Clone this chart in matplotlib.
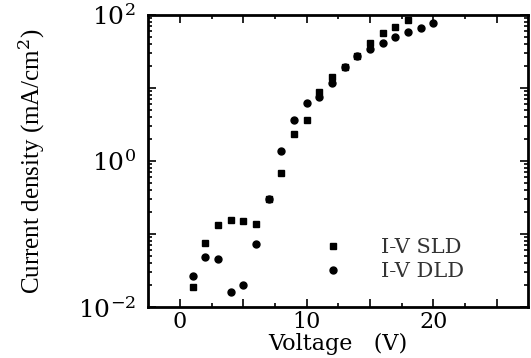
import matplotlib
matplotlib.use("Agg")
import matplotlib.pyplot as plt
from matplotlib.ticker import FixedLocator, FuncFormatter, LogLocator, NullFormatter
import numpy as np

plt.rcParams["font.family"] = ["DejaVu Serif"]
plt.rcParams["mathtext.fontset"] = "dejavuserif"

# I-V data
v_sld = [1, 2, 3, 4, 5, 6, 7, 8, 9, 10, 11, 12, 13, 14, 15, 16, 17, 18]
j_sld = [0.019, 0.076, 0.133, 0.155, 0.152, 0.136, 0.30, 0.69, 2.34, 3.6,
         8.9, 14.0, 19.6, 27.8, 41, 56, 69, 85]

v_dld = [1, 2, 3, 4, 5, 6, 7, 8, 9, 10, 11, 12, 13, 14, 15, 16, 17, 18, 19, 20]
j_dld = [0.027, 0.049, 0.045, 0.016, 0.020, 0.073, 0.30, 1.37, 3.6, 6.2,
         7.6, 11.6, 19.6, 27.8, 33.8, 42, 50, 59, 67, 77]

fig = plt.figure(figsize=(5.31, 3.58), dpi=100)
ax = fig.add_axes([0.279, 0.142, 0.716, 0.816])

ax.plot(v_sld, j_sld, "s", color="black", markersize=5, label="I-V SLD")
ax.plot(v_dld, j_dld, "o", color="black", markersize=5, label="I-V DLD")

ax.set_yscale("log")
ax.set_xlim(-2.5, 27.5)
ax.set_ylim(1e-2, 1e2)

ax.yaxis.set_major_locator(FixedLocator([1e-2, 1e-1, 1e0, 1e1, 1e2]))
ax.yaxis.set_major_formatter(FuncFormatter(
    lambda y, p: r"$10^{%d}$" % round(np.log10(y)) if round(np.log10(y)) % 2 == 0 else ""))
ax.yaxis.set_minor_locator(LogLocator(base=10, subs=np.arange(2, 10)))
ax.yaxis.set_minor_formatter(NullFormatter())

ax.set_xticks([0, 5, 10, 15, 20, 25])
ax.set_xticklabels(["0", "", "10", "", "20", ""])
ax.set_xticks(np.arange(2.5, 27.5, 5), minor=True)

ax.tick_params(which="both", direction="in", top=True, right=True, width=1.2)
ax.tick_params(which="major", length=6)
ax.tick_params(axis="x", which="major", labelsize=16, pad=3)
ax.tick_params(axis="y", which="major", labelsize=18, pad=9)
ax.tick_params(which="minor", length=3)
for s in ax.spines.values():
    s.set_linewidth(2)

ax.set_xlabel("Voltage   (V)", fontsize=16, labelpad=0)
ax.set_ylabel("Current density (mA/cm$^2$)", fontsize=18, labelpad=22,
              family="Liberation Serif")

ax.legend(loc="upper left", bbox_to_anchor=(0.41, 0.30), frameon=False,
          fontsize=15, handlelength=1, handletextpad=1.8, labelspacing=0.25,
          labelcolor="#333333")

fig.savefig("out.png", dpi=100)
